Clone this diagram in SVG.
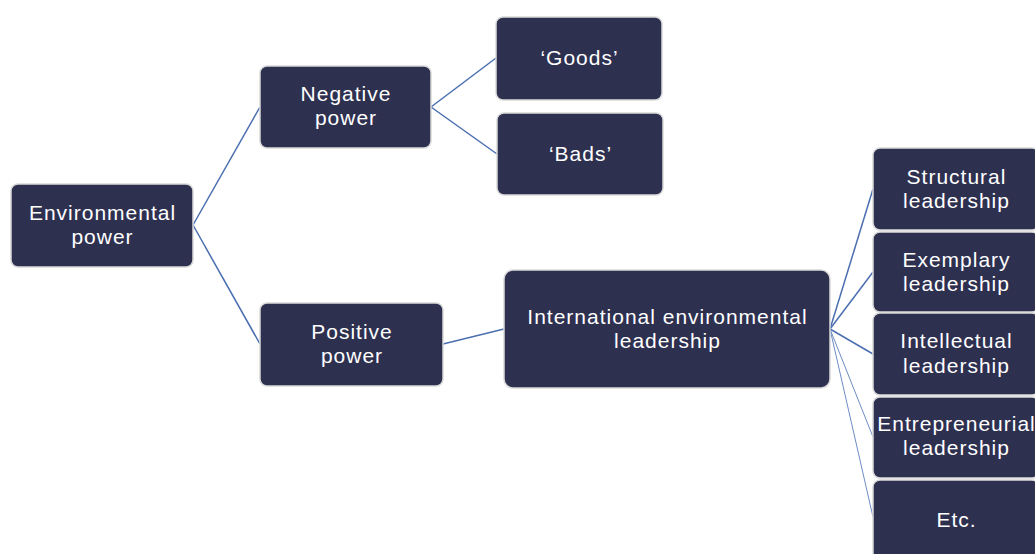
<svg xmlns="http://www.w3.org/2000/svg" width="1035" height="554" viewBox="0 0 1035 554">
<style>
.box{fill:#2E3050;stroke:#D9D9D9;stroke-width:1.5}
.t{font-family:"Liberation Sans","DejaVu Sans",sans-serif;font-size:21px;fill:#FFFFFF;text-anchor:middle;letter-spacing:1px}
.c{stroke:#4A6EB0;stroke-width:1.5;fill:none}
.c2{stroke:#6E8CC4;stroke-width:1;fill:none}
</style>
<rect width="1035" height="554" fill="#FFFFFF"/>
<g id="connectors">
<line class="c" x1="193" y1="225" x2="260" y2="107"/>
<line class="c" x1="193" y1="225" x2="260" y2="344"/>
<line class="c" x1="431" y1="107" x2="496" y2="58"/>
<line class="c" x1="431" y1="107" x2="497" y2="154"/>
<line class="c" x1="443" y1="344" x2="504" y2="329"/>
<line class="c" x1="830" y1="329" x2="873" y2="189"/>
<line class="c" x1="830" y1="329" x2="873" y2="272"/>
<line class="c" x1="830" y1="329" x2="873" y2="354"/>
<line class="c2" x1="830" y1="329" x2="873" y2="437"/>
<line class="c2" x1="830" y1="329" x2="873" y2="517"/>
</g>
<g id="env"><rect class="box" x="11" y="184" width="182" height="83" rx="7"/><text class="t" x="102.5" y="220">Environmental</text><text class="t" x="102.5" y="244">power</text></g>
<g id="neg"><rect class="box" x="260" y="66" width="171" height="82" rx="7"/><text class="t" x="346" y="101">Negative</text><text class="t" x="346" y="125">power</text></g>
<g id="goods"><rect class="box" x="496" y="17" width="166" height="83" rx="7"/><text class="t" x="579.5" y="65">‘Goods’</text></g>
<g id="bads"><rect class="box" x="497" y="113" width="166" height="82" rx="7"/><text class="t" x="580.5" y="161">‘Bads’</text></g>
<g id="pos"><rect class="box" x="260" y="303" width="183" height="83" rx="7"/><text class="t" x="352" y="339">Positive</text><text class="t" x="352" y="363">power</text></g>
<g id="intl"><rect class="box" x="504" y="270" width="326" height="118" rx="9"/><text class="t" x="667.5" y="324">International environmental</text><text class="t" x="667.5" y="348">leadership</text></g>
<g id="structural"><rect class="box" x="873" y="148" width="166" height="82" rx="7"/><text class="t" x="956.5" y="184">Structural</text><text class="t" x="956.5" y="208">leadership</text></g>
<g id="exemplary"><rect class="box" x="873" y="232" width="166" height="80" rx="7"/><text class="t" x="956.5" y="267">Exemplary</text><text class="t" x="956.5" y="291">leadership</text></g>
<g id="intellectual"><rect class="box" x="873" y="313" width="166" height="82" rx="7"/><text class="t" x="956.5" y="348">Intellectual</text><text class="t" x="956.5" y="373">leadership</text></g>
<g id="entrepreneurial"><rect class="box" x="873" y="397" width="166" height="81" rx="7"/><text class="t" x="956.5" y="431" letter-spacing="0.3">Entrepreneurial</text><text class="t" x="956.5" y="455">leadership</text></g>
<g id="etc"><rect class="box" x="873" y="480" width="166" height="90" rx="7"/><text class="t" x="956.5" y="527">Etc.</text></g>
</svg>
